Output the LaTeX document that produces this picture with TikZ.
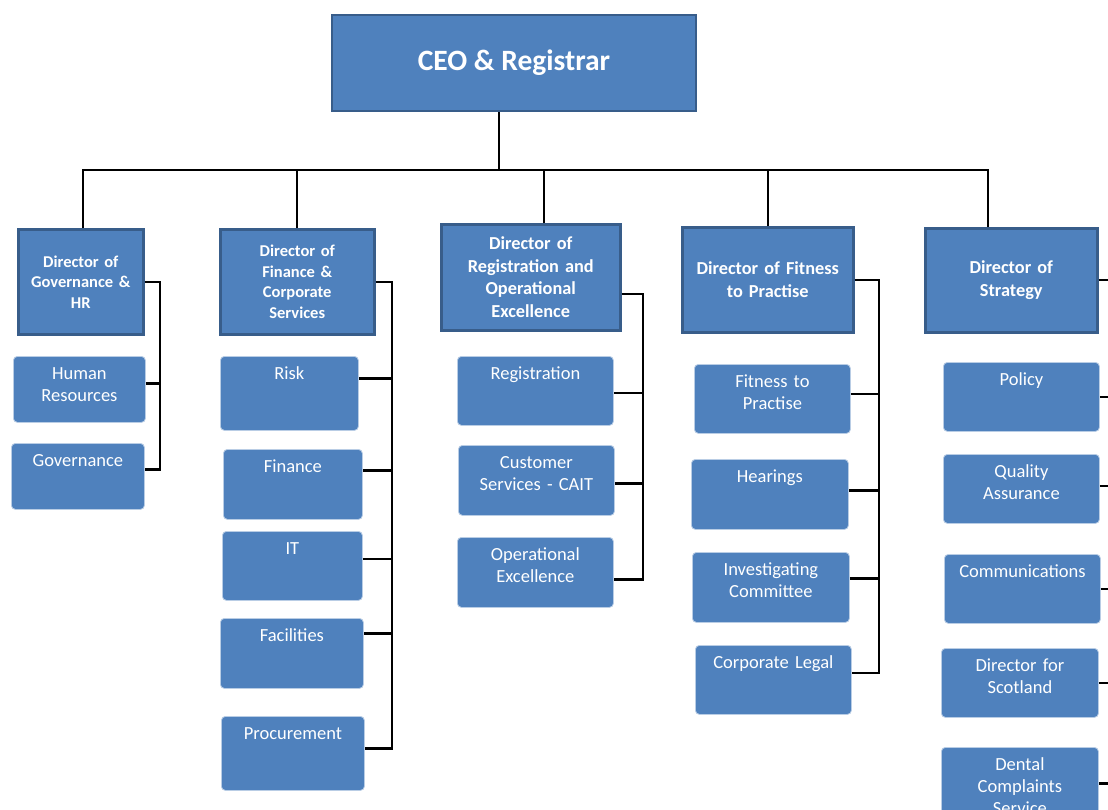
\documentclass[tikz,border=0pt]{standalone}
\usepackage{fontspec}
\setmainfont{Carlito}
\definecolor{orgblue}{HTML}{4F81BD}
\definecolor{orgedge}{HTML}{385D8A}
\definecolor{orgpale}{HTML}{B9CDE5}
\tikzset{
  ceobox/.style={draw=orgedge, line width=2pt, fill=orgblue, text=white, anchor=north west,
    font=\fontsize{29.5}{35}\selectfont\bfseries},
  dirbox/.style 2 args={draw=orgedge, line width=2.5pt, fill=orgblue, text=white, anchor=north west,
    align=center, minimum width=#1, minimum height=#2, text width=#1-10, inner sep=3pt,
    font=\fontsize{18.3}{22.5}\selectfont\bfseries},
  subbox/.style 2 args={draw=orgpale, line width=0.8pt, rounded corners=4pt, fill=orgblue, text=white,
    anchor=north west, align=center, inner xsep=0pt, inner ysep=4pt,
    text width=#1, text height=19pt, text depth=#2-27,
    font=\fontsize{18.5}{22}\selectfont},
  link/.style={line width=2.2pt, black},
}
\begin{document}
\begin{tikzpicture}[x=1pt, y=-1pt]
\useasboundingbox (0,0) rectangle (1108,809);
\fill[white] (0,0) rectangle (1108,809);
\clip (0,0) rectangle (1108,809);

% top
\node[ceobox, minimum width=364, minimum height=96] (ceo) at (331,14) {CEO \& Registrar};

% directors
\node[dirbox={125}{105}, font=\fontsize{16.5}{20.5}\selectfont\bfseries] (d1) at (17,228) {Director of\\Governance \&\\HR};
\node[dirbox={154}{105}, font=\fontsize{16.5}{20.5}\selectfont\bfseries] (d2) at (219,228) {Director of\\Finance \&\\Corporate\\Services};
\node[dirbox={179}{106}] (d3) at (440,223) {Director of\\Registration and\\Operational\\Excellence};
\node[dirbox={171}{105}] (d4) at (681,226) {Director of Fitness\\to Practise};
\node[dirbox={172}{104}] (d5) at (924,227) {Director of\\Strategy};

% governance & hr
\node[subbox={132}{66}] (hr) at (13,356) {Human\\Resources};
\node[subbox={133}{66}] (gov) at (11,443) {Governance};

% finance & corporate services
\node[subbox={138}{74}] (risk) at (220,356) {Risk};
\node[subbox={139}{70}] (fin) at (223,449) {Finance};
\node[subbox={140}{69}] (it) at (222,531) {IT};
\node[subbox={143}{70}] (fac) at (220,618) {Facilities};
\node[subbox={143}{74}] (proc) at (221,716) {Procurement};

% registration
\node[subbox={156}{69}] (reg) at (457,356) {Registration};
\node[subbox={156}{70}] (cust) at (458,445) {Customer\\Services - CAIT};
\node[subbox={156}{70}] (opex) at (457,537) {Operational\\Excellence};

% fitness to practise
\node[subbox={156}{69}] (ftp) at (694,364) {Fitness to\\Practise};
\node[subbox={157}{70}] (hear) at (691,459) {Hearings};
\node[subbox={157}{70}] (inv) at (692,552) {Investigating\\Committee};
\node[subbox={156}{69}] (legal) at (695,645) {Corporate Legal};

% strategy
\node[subbox={156}{69}] (policy) at (943,362) {Policy};
\node[subbox={156}{69}] (qa) at (943,454) {Quality\\Assurance};
\node[subbox={156}{69}] (comms) at (944,554) {Communications};
\node[subbox={157}{69}] (scot) at (941,648) {Director for\\Scotland};
\node[subbox={157}{90}] (dental) at (941,747) {Dental\\Complaints\\Service};

% bus under the ceo
\coordinate (bus) at (0,170);
\draw[link] ([xshift=-15pt]ceo.south) -- ([xshift=-15pt]ceo.south |- bus);
\draw[link] ([xshift=2pt]d1.north) |- ([xshift=-23pt]d5.north |- bus) -- ([xshift=-23pt]d5.north);
\draw[link] (d2.north) -- (d2.north |- bus);
\draw[link] ([xshift=13pt]d3.north) -- ([xshift=13pt]d3.north |- bus);
\draw[link] (d4.north) -- (d4.north |- bus);

% brackets
\coordinate (gbar) at (160,0);
\draw[link] (d1.east) -| ([yshift=7pt]gov.east -| gbar) -- ([yshift=7pt]gov.east);
\draw[link] ([yshift=6pt]hr.east) -- ([yshift=6pt]hr.east -| gbar);

\coordinate (fbar) at (392,0);
\draw[link] (d2.east) -| ([yshift=5pt]proc.east -| fbar) -- ([yshift=5pt]proc.east);
\draw[link] ([yshift=15pt]risk.east) -- ([yshift=15pt]risk.east -| fbar);
\draw[link] ([yshift=14pt]fin.east) -- ([yshift=14pt]fin.east -| fbar);
\draw[link] ([yshift=7pt]it.east) -- ([yshift=7pt]it.east -| fbar);
\draw[link] ([yshift=20pt]fac.east) -- ([yshift=20pt]fac.east -| fbar);

\coordinate (rbar) at (643,0);
\draw[link] ([yshift=-17pt]d3.east) -| ([yshift=-7pt]opex.east -| rbar) -- ([yshift=-7pt]opex.east);
\draw[link] ([yshift=-2pt]reg.east) -- ([yshift=-2pt]reg.east -| rbar);
\draw[link] ([yshift=-3pt]cust.east) -- ([yshift=-3pt]cust.east -| rbar);

\coordinate (tbar) at (879,0);
\draw[link] (d4.east) -| ([yshift=7pt]legal.east -| tbar) -- ([yshift=7pt]legal.east);
\draw[link] ([yshift=5pt]ftp.east) -- ([yshift=5pt]ftp.east -| tbar);
\draw[link] ([yshift=4pt]hear.east) -- ([yshift=4pt]hear.east -| tbar);
\draw[link] ([yshift=9pt]inv.east) -- ([yshift=9pt]inv.east -| tbar);

\coordinate (sbar) at (1125,0);
\draw[link] (d5.east) -| ([yshift=9pt]dental.east -| sbar) -- ([yshift=9pt]dental.east);
\draw[link] (policy.east) -- (policy.east -| sbar);
\draw[link] ([yshift=3pt]qa.east) -- ([yshift=3pt]qa.east -| sbar);
\draw[link] (comms.east) -- (comms.east -| sbar);
\draw[link] (scot.east) -- (scot.east -| sbar);
\end{tikzpicture}
\end{document}
